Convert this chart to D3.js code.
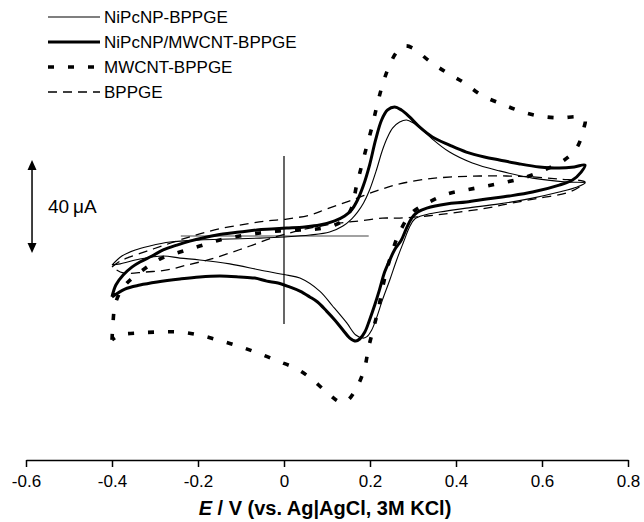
<!DOCTYPE html>
<html><head><meta charset="utf-8">
<script src="https://cdn.jsdelivr.net/npm/d3@7"></script>
<style>
body{margin:0;background:#fff}
text{font-family:"Liberation Sans",Arial,Helvetica,sans-serif;fill:#000}
</style>
</head><body>
<svg id="chart" width="644" height="522"></svg>
<script>
// Potential E (V vs Ag|AgCl) and current I (µA)
const xTicks = [-0.6, -0.4, -0.2, 0, 0.2, 0.4, 0.6, 0.8];
const seriesNames = ["NiPcNP-BPPGE", "NiPcNP/MWCNT-BPPGE", "MWCNT-BPPGE", "BPPGE"];

const niPcNP = [
 [-0.400,-12.5],[-0.377,-8.6],[-0.346,-6.0],[-0.312,-4.3],[-0.265,-2.6],[-0.196,-1.7],[-0.126,-1.3],
 [-0.056,-0.9],[0.002,-0.4],[0.060,0.4],[0.106,1.7],[0.137,4.3],[0.157,7.3],[0.171,10.3],[0.185,14.2],
 [0.199,19.8],[0.215,28.4],[0.229,37.0],[0.241,42.6],[0.253,46.5],[0.269,49.0],[0.285,49.9],[0.301,48.6],
 [0.320,46.0],[0.345,41.7],[0.385,36.1],[0.438,31.4],[0.501,28.0],[0.578,24.9],[0.657,23.2],[0.700,22.8],
 [0.682,21.1],[0.640,18.9],[0.578,16.3],[0.501,13.8],[0.424,12.0],[0.362,10.3],[0.327,9.0],[0.304,7.3],
 [0.292,3.9],[0.278,-2.6],[0.262,-10.3],[0.246,-18.9],[0.229,-27.5],[0.215,-35.3],[0.204,-40.4],
 [0.192,-43.4],[0.183,-43.9],[0.167,-42.6],[0.146,-37.4],[0.113,-30.1],[0.083,-23.7],[0.037,-18.1],
 [0.006,-16.8],[-0.056,-14.6],[-0.126,-12.0],[-0.196,-10.3],[-0.242,-9.5],[-0.281,-8.6],[-0.335,-9.9],
 [-0.381,-12.0],[-0.400,-12.5]
];

const niPcNPMwcnt = [
 [-0.400,-26.2],[-0.391,-21.1],[-0.374,-16.8],[-0.353,-13.3],[-0.335,-11.2],[-0.307,-8.6],[-0.281,-6.0],
 [-0.249,-3.9],[-0.219,-2.2],[-0.179,-0.4],[-0.142,0.9],[-0.103,1.7],[-0.063,2.6],[-0.029,3.0],[0.006,3.4],
 [0.048,3.9],[0.083,4.7],[0.118,6.5],[0.141,8.6],[0.157,11.2],[0.171,15.5],[0.185,21.9],[0.199,30.5],
 [0.213,41.3],[0.227,49.9],[0.241,54.2],[0.257,55.5],[0.273,54.2],[0.292,51.2],[0.315,46.9],[0.345,42.6],
 [0.385,39.1],[0.424,36.1],[0.466,34.0],[0.501,32.7],[0.548,31.0],[0.594,29.7],[0.640,29.2],[0.675,29.7],
 [0.700,30.5],[0.691,27.5],[0.671,24.1],[0.640,21.9],[0.578,18.9],[0.524,17.2],[0.471,15.9],[0.424,14.6],
 [0.378,13.8],[0.332,12.0],[0.311,10.3],[0.297,7.7],[0.285,3.4],[0.273,-1.7],[0.257,-6.0],[0.246,-10.3],
 [0.234,-15.5],[0.222,-23.2],[0.211,-29.7],[0.199,-36.1],[0.188,-41.3],[0.176,-44.3],[0.167,-45.2],
 [0.153,-43.9],[0.137,-40.4],[0.118,-36.1],[0.099,-32.3],[0.078,-28.4],[0.060,-26.2],[0.037,-23.7],
 [0.013,-21.9],[-0.014,-20.2],[-0.040,-19.4],[-0.068,-18.1],[-0.103,-17.6],[-0.149,-17.2],[-0.196,-17.6],
 [-0.242,-18.5],[-0.295,-19.8],[-0.335,-21.1],[-0.370,-22.8],[-0.400,-26.2]
];

const mwcnt = [
 [-0.400,-44.7],[-0.398,-38.3],[-0.393,-29.7],[-0.381,-24.1],[-0.365,-20.2],[-0.328,-14.6],[-0.289,-9.9],
 [-0.242,-6.9],[-0.196,-4.3],[-0.149,-1.7],[-0.103,0.0],[-0.056,1.3],[-0.010,2.2],[0.037,2.6],[0.076,3.0],
 [0.118,4.7],[0.141,7.3],[0.157,12.0],[0.169,21.9],[0.181,30.5],[0.192,38.3],[0.204,46.5],[0.215,55.1],
 [0.227,63.7],[0.241,71.4],[0.262,79.1],[0.280,81.7],[0.299,80.9],[0.341,74.8],[0.380,70.1],[0.420,65.8],
 [0.459,60.6],[0.506,56.8],[0.548,53.8],[0.594,51.6],[0.640,50.8],[0.687,51.2],[0.700,49.9],
 [0.698,46.9],[0.682,38.3],[0.652,32.7],[0.610,28.8],[0.564,25.4],[0.517,23.2],[0.471,21.5],[0.424,19.8],
 [0.380,18.1],[0.334,14.2],[0.297,9.9],[0.269,1.7],[0.253,-6.0],[0.239,-14.6],[0.229,-22.4],[0.220,-31.0],
 [0.209,-39.1],[0.197,-47.7],[0.188,-56.3],[0.171,-64.5],[0.146,-71.0],[0.130,-71.4],[0.104,-68.0],
 [0.067,-61.9],[0.030,-57.2],[-0.014,-53.8],[-0.061,-50.3],[-0.107,-47.3],[-0.154,-44.7],[-0.198,-42.6],
 [-0.244,-41.3],[-0.291,-41.3],[-0.337,-41.7],[-0.381,-42.6],[-0.400,-44.7]
];

const bppge = [
 [-0.400,-13.3],[-0.381,-10.8],[-0.358,-9.0],[-0.319,-6.5],[-0.284,-4.3],[-0.242,-1.7],[-0.196,0.9],
 [-0.142,3.4],[-0.086,5.2],[-0.040,6.5],[0.006,7.3],[0.060,9.0],[0.099,11.6],[0.153,15.1],[0.215,19.4],
 [0.269,22.4],[0.332,24.5],[0.392,25.4],[0.455,25.8],[0.517,25.8],[0.578,25.4],[0.640,24.5],[0.700,23.2],
 [0.687,21.1],[0.657,18.5],[0.594,16.3],[0.531,14.2],[0.471,12.0],[0.392,9.9],[0.332,8.6],[0.269,7.7],
 [0.229,7.7],[0.176,6.5],[0.130,5.6],[0.060,3.4],[0.013,1.3],[-0.029,-0.9],[-0.079,-4.3],[-0.126,-7.3],
 [-0.177,-10.3],[-0.226,-12.5],[-0.272,-14.6],[-0.323,-15.5],[-0.374,-15.9],[-0.400,-13.3]
];

// reference cross (E = 0 line and I = 0 line) and 40 µA scale bar
const zeroLineE = [-0.24, 0.197];
const zeroLineI = [-37.8, 34.4];
const scaleBarE = -0.586;
const scaleBarI = [-7.3, 32.7];
const scaleBarLabel = "40\u2009\u03bcA";

const svg = d3.select("#chart");
const x = d3.scaleLinear().domain([-0.6, 0.8]).range([26, 628]);
const y = d3.scaleLinear().domain([0, 40]).range([236, 143]);

const line = d3.line().x(d => x(d[0])).y(d => y(d[1])).curve(d3.curveCatmullRom.alpha(0.5));

const styles = [
  {data: niPcNP, w: 1.1, dash: null},
  {data: niPcNPMwcnt, w: 3, dash: null},
  {data: mwcnt, w: 3.6, dash: "6,14"},
  {data: bppge, w: 1.3, dash: "9,6"}
];

// reference cross
svg.append("line").attr("x1", x(0)).attr("x2", x(0)).attr("y1", y(zeroLineI[1])).attr("y2", y(zeroLineI[0]))
  .attr("stroke", "#000").attr("stroke-width", 1.2);
svg.append("line").attr("x1", x(zeroLineE[0])).attr("x2", x(zeroLineE[1])).attr("y1", y(0)).attr("y2", y(0))
  .attr("stroke", "#444").attr("stroke-width", 1.2);

styles.slice().reverse().forEach(s => {
  svg.append("path").attr("d", line(s.data)).attr("fill", "none").attr("stroke", "#000")
    .attr("stroke-width", s.w).attr("stroke-dasharray", s.dash).attr("stroke-linejoin", "round");
});

// x axis
const ax = svg.append("g").attr("transform", "translate(0,460)")
  .call(d3.axisBottom(x).tickValues(xTicks).tickSize(7).tickSizeOuter(0).tickPadding(8)
    .tickFormat(d => d === 0 ? "0" : d.toFixed(1)));
ax.select(".domain").attr("stroke", "#000").attr("stroke-width", 1.5);
ax.selectAll(".tick line").attr("stroke", "#000").attr("stroke-width", 1.5);
ax.selectAll(".tick text").attr("font-size", 17).style("font-family", "'Liberation Sans',Arial,sans-serif");

const title = svg.append("text").attr("x", 325).attr("y", 515).attr("text-anchor", "middle")
  .attr("font-size", 20).attr("font-weight", "bold");
title.append("tspan").attr("font-style", "italic").text("E");
title.append("tspan").text(" / V (vs. Ag|AgCl, 3M KCl)");

// scale bar
const sbx = x(scaleBarE);
const yt = y(scaleBarI[1]), yb = y(scaleBarI[0]);
svg.append("line").attr("x1", sbx).attr("x2", sbx).attr("y1", yt + 6).attr("y2", yb - 6)
  .attr("stroke", "#000").attr("stroke-width", 1.5);
svg.append("path").attr("d", `M${sbx},${yt} L${sbx-4.5},${yt+10} L${sbx+4.5},${yt+10} Z`).attr("fill", "#000");
svg.append("path").attr("d", `M${sbx},${yb} L${sbx-4.5},${yb-10} L${sbx+4.5},${yb-10} Z`).attr("fill", "#000");
svg.append("text").attr("x", sbx + 16).attr("y", (yt + yb) / 2 + 7).attr("font-size", 19).text(scaleBarLabel);

// legend
const leg = svg.append("g");
styles.forEach((s, i) => {
  const yy = 17 + i * 25;
  leg.append("line").attr("x1", 48).attr("x2", 100).attr("y1", yy).attr("y2", yy)
    .attr("stroke", "#000").attr("stroke-width", s.w).attr("stroke-dasharray", s.dash);
  leg.append("text").attr("x", 104).attr("y", yy + 6).attr("font-size", 17).text(seriesNames[i]);
});
</script>
</body></html>
